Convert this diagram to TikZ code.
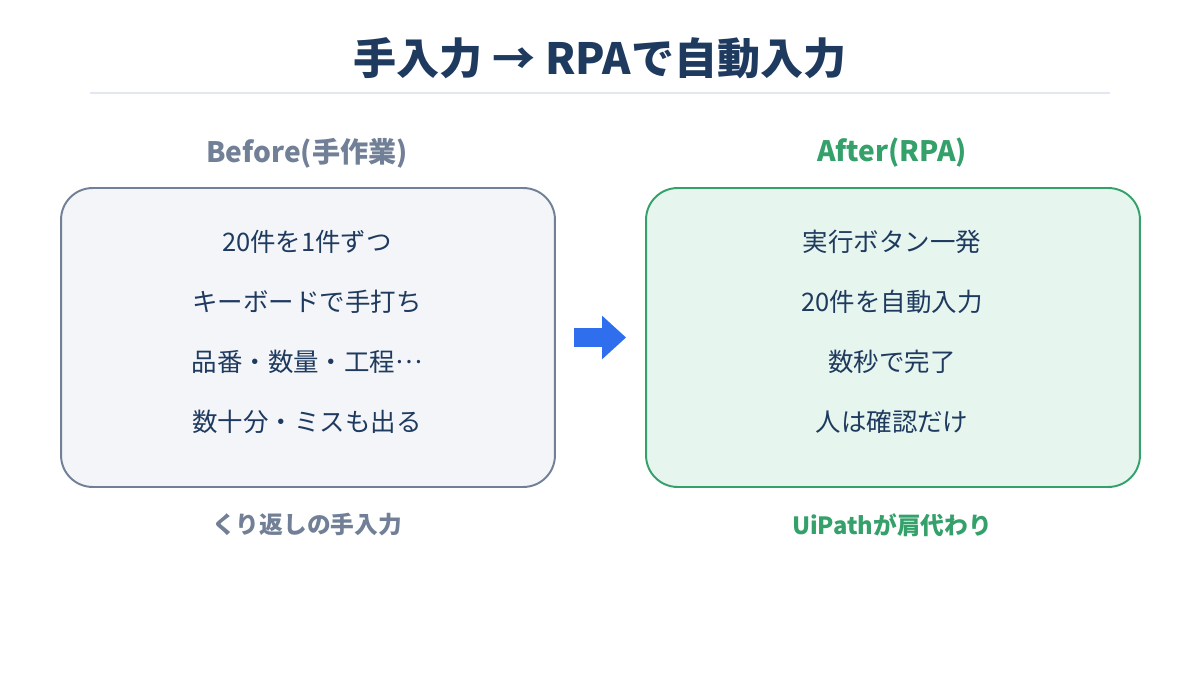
\documentclass[tikz,border=0pt]{standalone}
\usepackage{fontspec}
\setmainfont{Noto Sans CJK JP}
\usepackage{tikz}
\usetikzlibrary{arrows.meta,positioning}

\definecolor{navy}{HTML}{1F3A5F}
\definecolor{slate}{HTML}{718096}
\definecolor{slatebg}{HTML}{F3F5F8}
\definecolor{leaf}{HTML}{34A06A}
\definecolor{leafbg}{HTML}{E6F5EE}
\definecolor{rule}{HTML}{E2E8F0}
\definecolor{push}{HTML}{2F6FED}

\tikzset{
  title/.style={font=\bfseries\fontsize{24.5}{28}\selectfont,text=navy},
  head/.style={font=\bfseries\fontsize{16}{20}\selectfont},
  panel/.style={rounded corners=18,line width=1.1pt,minimum width=9.88cm,minimum height=5.98cm},
  itemtext/.style={font=\fontsize{14.5}{18}\selectfont,text=navy},
  foot/.style={font=\bfseries\fontsize{13.5}{16}\selectfont}
}

\begin{document}
\begin{tikzpicture}[x=0.02cm,y=-0.02cm]
    \useasboundingbox[fill=white] (0,0) rectangle (1200,675);
    \node[title] (top) at (600,58) {手入力 → RPAで自動入力};
    \draw[rule,line width=0.8pt] (90,93) -- (1110,93);

    % before side
    \node[head,text=slate] (beforehead) at (307,153) {Before(手作業)};
    \node[panel,draw=slate,fill=slatebg] (before) at (308,337.5) {};
    \node[itemtext] (b1) at (307,242) {20件を1件ずつ};
    \node[itemtext] (b2) at (307,302) {キーボードで手打ち};
    \node[itemtext] (b3) at (307,362) {品番・数量・工程\raisebox{0.33em}{…}};
    \node[itemtext] (b4) at (307,422) {数十分・ミスも出る};
    \node[foot,text=slate] (beforefoot) at (307,525) {くり返しの手入力};

    % after side
    \node[head,text=leaf] (afterhead) at (892,153) {After(RPA)};
    \node[panel,draw=leaf,fill=leafbg] (after) at (893,337.5) {};
    \node[itemtext] (a1) at (892,242) {実行ボタン一発};
    \node[itemtext] (a2) at (892,302) {20件を自動入力};
    \node[itemtext] (a3) at (892,362) {数秒で完了};
    \node[itemtext] (a4) at (892,422) {人は確認だけ};
    \node[foot,text=leaf] (afterfoot) at (892,525) {UiPathが肩代わり};

    \coordinate[right=0.36cm of before.east] (gofrom);
    \coordinate[left=0.38cm of after.west] (goto);
    \draw[push,line width=0.4cm,-{Triangle[length=0.48cm,width=0.84cm]}] (gofrom) -- (goto);
\end{tikzpicture}
\end{document}
